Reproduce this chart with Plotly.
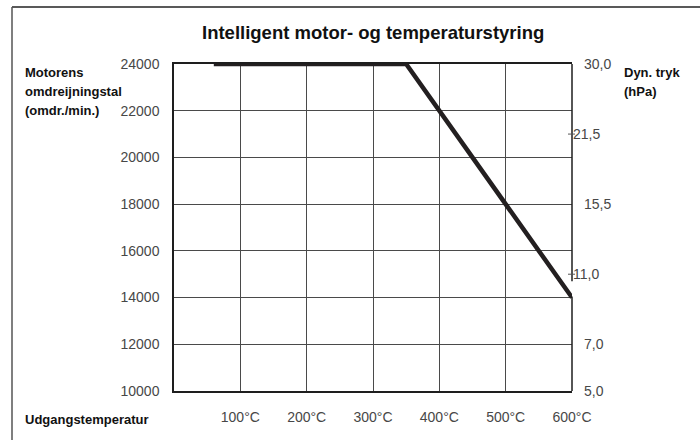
import plotly.graph_objects as go

# Figure geometry (pixels)
W, H = 700, 440
ML, MR, MT, MB = 174, 128, 64, 49
PW, PH = W - ML - MR, H - MT - MB

# Curve: motor speed vs outlet temperature
temp_c = [60, 350, 600]
rpm = [24000, 24000, 14000]

# Axis ticks
x_ticks = [100, 200, 300, 400, 500, 600]
x_labels = ["100°C", "200°C", "300°C", "400°C", "500°C", "600°C"]
rpm_ticks = [10000, 12000, 14000, 16000, 18000, 20000, 22000, 24000]

# Dynamic pressure scale on the right, placed against the speed scale
hpa_pos = [24000, 18000, 12000, 10000]
hpa_text = ["30,0", "15,5", "7,0", "5,0"]
hpa_marked_pos = [21000, 15000]
hpa_marked_text = ["21,5", "11,0"]

FONT = "Liberation Sans, Arial, Helvetica, sans-serif"
TICK_COLOR = "#474747"
GRID = "#4a4a4a"
FRAME = "#1e1e1e"


def px_x(px):
    return (px - ML) / PW


def px_y(py):
    return (H - MB - py) / PH


fig = go.Figure()
fig.add_trace(go.Scatter(
    x=temp_c, y=rpm, mode="lines",
    line=dict(color="#231f20", width=4.5),
    hoverinfo="skip", showlegend=False,
))
# invisible traces so the right-hand axes get drawn
for ax in ("y2", "y3"):
    fig.add_trace(go.Scatter(x=[0], y=[10000], yaxis=ax, mode="markers",
                             marker=dict(opacity=0), hoverinfo="skip",
                             showlegend=False))

fig.update_layout(
    width=W, height=H, autosize=False,
    margin=dict(l=ML, r=MR, t=MT, b=MB),
    paper_bgcolor="white", plot_bgcolor="white",
    font=dict(family=FONT, color=TICK_COLOR, size=14),
    xaxis=dict(
        range=[0, 600], tickvals=x_ticks, ticktext=x_labels,
        showgrid=True, gridcolor=GRID, gridwidth=1,
        showline=True, linecolor=FRAME, linewidth=1.5, mirror=True,
        ticks="", ticklabelstandoff=12, zeroline=False,
        tickfont=dict(size=14, color=TICK_COLOR), fixedrange=True,
    ),
    yaxis=dict(
        range=[10000, 24000], tickvals=rpm_ticks, tickformat="d",
        showgrid=True, gridcolor=GRID, gridwidth=1,
        showline=True, linecolor=FRAME, linewidth=1.5, mirror=False,
        ticks="", ticklabelstandoff=10, zeroline=False,
        tickfont=dict(size=14, color=TICK_COLOR), fixedrange=True,
    ),
    yaxis2=dict(
        overlaying="y", side="right", anchor="x",
        range=[10000, 24000], tickvals=hpa_pos, ticktext=hpa_text,
        showgrid=False, showline=False, zeroline=False, ticks="",
        ticklabelstandoff=11, tickfont=dict(size=14, color=TICK_COLOR),
        fixedrange=True,
    ),
    yaxis3=dict(
        overlaying="y", side="right", anchor="x",
        range=[10000, 24000], tickvals=hpa_marked_pos, ticktext=hpa_marked_text,
        showgrid=False, showline=False, zeroline=False, ticks="",
        ticklabelstandoff=0, tickfont=dict(size=14, color=TICK_COLOR),
        fixedrange=True,
    ),
)

shapes = []
# right frame edge, interrupted where the curve meets it
for y0, y1 in [(14700, 24000), (10000, 14050)]:
    shapes.append(dict(type="line", xref="paper", yref="y",
                       x0=1, x1=1, y0=y0, y1=y1,
                       line=dict(color=FRAME, width=1.5)))
# short marks on the pressure scale
for v in hpa_marked_pos:
    shapes.append(dict(type="line", xref="paper", yref="y",
                       x0=px_x(ML + PW - 4), x1=px_x(ML + PW + 3), y0=v, y1=v,
                       line=dict(color="#555", width=1)))
# outer border of the panel: top and left edges
shapes.append(dict(type="line", xref="paper", yref="paper",
                   x0=px_x(12), x1=px_x(W), y0=px_y(7), y1=px_y(7),
                   line=dict(color="#222", width=1.5), layer="below"))
shapes.append(dict(type="line", xref="paper", yref="paper",
                   x0=px_x(12), x1=px_x(12), y0=px_y(7), y1=px_y(H),
                   line=dict(color="#555", width=1.5), layer="below"))
fig.update_layout(shapes=shapes)

ann = []


def label(text, x, y, size=13, bold=True, color="#111", xanchor="left"):
    ann.append(dict(text=f"<b>{text}</b>" if bold else text,
                    xref="paper", yref="paper", x=px_x(x), y=px_y(y),
                    xanchor=xanchor, yanchor="middle", showarrow=False,
                    font=dict(family=FONT, size=size, color=color)))


label("Intelligent motor- og temperaturstyring", ML + PW / 2, 33,
      size=18.5, xanchor="center")
label("Motorens", 23, 73)
label("omdreijningstal", 23, 92)
label("(omdr./min.)", 23, 110)
label("Dyn. tryk", 622, 72)
label("(hPa)", 622, 92)
label("Udgangstemperatur", 23, 419)
fig.update_layout(annotations=ann)

fig.write_html("out.html")
